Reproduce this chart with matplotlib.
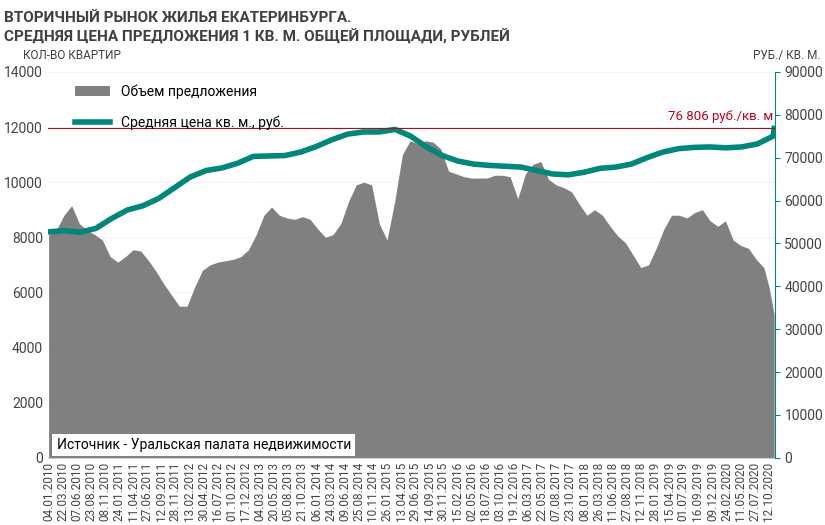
import matplotlib
matplotlib.use('Agg')
import matplotlib.pyplot as plt
import pandas as pd
import numpy as np

plt.rcParams['font.family'] = 'Roboto'

tick_labels = ['04.01.2010', '22.03.2010', '07.06.2010', '23.08.2010', '08.11.2010', '24.01.2011',
               '11.04.2011', '27.06.2011', '12.09.2011', '28.11.2011', '13.02.2012', '30.04.2012',
               '16.07.2012', '01.10.2012', '17.12.2012', '04.03.2013', '20.05.2013', '05.08.2013',
               '21.10.2013', '06.01.2014', '24.03.2014', '09.06.2014', '25.08.2014', '10.11.2014',
               '26.01.2015', '13.04.2015', '29.06.2015', '14.09.2015', '30.11.2015', '15.02.2016',
               '02.05.2016', '18.07.2016', '03.10.2016', '19.12.2016', '06.03.2017', '22.05.2017',
               '07.08.2017', '23.10.2017', '08.01.2018', '26.03.2018', '11.06.2018', '27.08.2018',
               '12.11.2018', '28.01.2019', '15.04.2019', '01.07.2019', '16.09.2019', '09.12.2019',
               '24.02.2020', '11.05.2020', '27.07.2020', '12.10.2020']

# supply volume, sampled every 6 weeks from 04.01.2010
volume = [8090, 8250, 8800, 9150, 8500, 8250, 8100, 7900, 7300, 7100, 7300, 7550, 7500, 7150,
          6750, 6300, 5900, 5500, 5500, 6200, 6800, 7000, 7100, 7150, 7200, 7300, 7550, 8100,
          8800, 9100, 8800, 8700, 8650, 8750, 8650, 8300, 8000, 8100, 8500, 9300, 9900, 10000,
          9900, 8500, 7900, 9300, 11000, 11500, 11400, 11500, 11450, 11200, 10400, 10300, 10200,
          10150, 10150, 10150, 10250, 10250, 10200, 9400, 10300, 10650, 10750, 10100, 9900, 9800,
          9650, 9200, 8800, 9000, 8800, 8400, 8050, 7800, 7350, 6900, 7000, 7600, 8300, 8800,
          8800, 8700, 8900, 9000, 8600, 8400, 8600, 7900, 7700, 7600, 7200]
# average price per sq. m, sampled every 86 days from 04.01.2010
price = [52700, 53000, 52600, 53500, 55800, 57800, 58800, 60500, 63000, 65500, 67000, 67600,
         68700, 70300, 70400, 70500, 71300, 72600, 74200, 75500, 76000, 76000, 76600, 75000,
         72500, 70500, 69200, 68500, 68200, 68000, 67800, 67000, 66200, 66000, 66600, 67500,
         67800, 68500, 70000, 71300, 72100, 72400, 72500, 72300, 72500, 73200, 75000]
extra_dates = ['2020-09-14', '2020-10-12', '2020-11-09']
extra_volume = [6900, 6200, 5200]
last_date = '2020-11-09'
last_price = 76806

ticks = pd.to_datetime(tick_labels, format='%d.%m.%Y')
vol_dates = list(pd.date_range('2010-01-04', periods=len(volume), freq='42D')) + list(pd.to_datetime(extra_dates))
vol_vals = volume + extra_volume
price_dates = list(pd.date_range('2010-01-04', periods=len(price), freq='86D')) + [pd.Timestamp(last_date)]
price_vals = price + [last_price]

teal = '#00877a'
fig = plt.figure(figsize=(8.25, 5.25), dpi=100)
ax = fig.add_axes([0.058, 0.128, 0.881, 0.735])
ax.fill_between(vol_dates, vol_vals, color='#808080', lw=0, label='Объем предложения')
ax.set_ylim(0, 14000)
ax.set_yticks(range(0, 14001, 2000))
ax.set_xlim(ticks[0] - pd.Timedelta(days=4), pd.Timestamp(last_date) + pd.Timedelta(days=3))
ax.set_xticks(ticks)
ax.set_xticklabels(tick_labels, rotation=90, fontsize=8.5, color='#444444')
ax.tick_params(axis='y', length=0, labelsize=10, colors='#444444')
ax.tick_params(axis='x', length=0, pad=3)
for s in ['top', 'right', 'left']:
    ax.spines[s].set_visible(False)
ax.spines['bottom'].set_color('#cccccc')
ax.grid(axis='y', color='#dddddd', lw=0.6, ls=(0, (1, 2)))
ax.set_axisbelow(True)

ax2 = ax.twinx()
ax2.plot(price_dates, price_vals, color=teal, lw=4, label='Средняя цена кв. м., руб.')
ax2.axhline(last_price, color='#a01020', lw=0.8)
ax2.text(pd.Timestamp('2020-11-05'), last_price + 1200, '76 806 руб./кв. м', color='#c00020',
         ha='right', va='bottom', fontsize=9.5)
ax2.set_ylim(0, 90000)
ax2.set_yticks(range(0, 90001, 10000))
ax2.tick_params(axis='y', labelsize=10, colors='#444444', color=teal)
for s in ['top', 'left', 'bottom']:
    ax2.spines[s].set_visible(False)
ax2.spines['right'].set_color(teal)

h1, l1 = ax.get_legend_handles_labels()
h2, l2 = ax2.get_legend_handles_labels()
ax2.legend(h1 + h2, l1 + l2, loc='upper left', bbox_to_anchor=(0.02, 1.0), frameon=False,
           fontsize=10, labelspacing=1.2, handlelength=2.5)

ax.text(0.012, 0.022, 'Источник - Уральская палата недвижимости', transform=ax.transAxes,
        fontsize=10, bbox=dict(facecolor='white', edgecolor='none', pad=3))

fig.text(0.005, 0.980, 'ВТОРИЧНЫЙ РЫНОК ЖИЛЬЯ ЕКАТЕРИНБУРГА.', fontsize=11, weight='bold',
         color='#404040', va='top')
fig.text(0.005, 0.945, 'СРЕДНЯЯ ЦЕНА ПРЕДЛОЖЕНИЯ 1 КВ. М. ОБЩЕЙ ПЛОЩАДИ, РУБЛЕЙ', fontsize=11,
         weight='bold', color='#404040', va='top')
fig.text(0.028, 0.895, 'КОЛ-ВО КВАРТИР', fontsize=8.5, color='#404040', va='center')
fig.text(0.995, 0.895, 'РУБ./ КВ. М.', fontsize=8.5, color='#404040', ha='right', va='center')

fig.savefig('out.png', dpi=100)
